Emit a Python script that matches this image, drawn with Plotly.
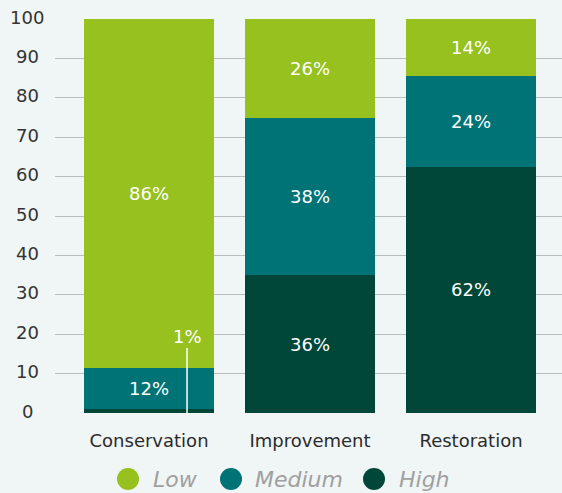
import plotly.graph_objects as go

categories = ["Conservation", "Improvement", "Restoration"]
# segment heights as drawn
high = [1, 35, 62.5]
medium = [10.5, 40, 23]
low = [88.5, 25, 14.5]
# printed labels
high_lbl = ["1%", "36%", "62%"]
medium_lbl = ["12%", "38%", "24%"]
low_lbl = ["86%", "26%", "14%"]
series_names = ["Low", "Medium", "High"]
y_ticks = [0, 10, 20, 30, 40, 50, 60, 70, 80, 90, 100]

C_LOW = "#96c11f"
C_MED = "#007377"
C_HIGH = "#00473a"
BG = "#f0f5f5"
FONT = "DejaVu Sans"

# plot area in pixels
L, R, T, B = 55, 562, 19, 413
W, H = 562, 493

fig = go.Figure()
for name, vals, lbls, col, hide in [("High", high, high_lbl, C_HIGH, {0}),
                                     ("Medium", medium, medium_lbl, C_MED, set()),
                                     ("Low", low, low_lbl, C_LOW, set())]:
    fig.add_trace(go.Bar(
        x=categories, y=vals, name=name, marker=dict(color=col, line=dict(width=0)),
        text=["" if i in hide else s for i, s in enumerate(lbls)],
        textposition="inside", insidetextanchor="middle",
        textangle=0, textfont=dict(family=FONT, size=18, color="white"),
        showlegend=False, cliponaxis=False, hoverinfo="skip",
    ))

annotations = []
# y tick labels, centered
for t in y_ticks:
    annotations.append(dict(x=(27 - L) / (R - L), xref="paper", y=t, yref="y", text=str(t),
                            showarrow=False, xanchor="center", yanchor="middle", yshift=2,
                            font=dict(family=FONT, size=18, color="#333333")))

# callout for Conservation High
annotations.append(dict(x=0.236, y=0, xref="x", yref="y", text=high_lbl[0], showarrow=True,
                        arrowhead=0, arrowcolor="white", arrowwidth=1.5, ax=0, ay=-77,
                        font=dict(family=FONT, size=18, color="white")))

# manual legend
shapes = []
leg_cols = [C_LOW, C_MED, C_HIGH]
circle_cx = [128, 231, 374]
text_x = [151, 253, 397]
leg_y = 479
for name, col, cx, tx in zip(series_names, leg_cols, circle_cx, text_x):
    shapes.append(dict(type="circle", xref="paper", yref="paper", xsizemode="pixel", ysizemode="pixel",
                       xanchor=(cx - L) / (R - L), yanchor=(B - leg_y) / (B - T),
                       x0=-11, x1=11, y0=-11, y1=11, fillcolor=col, line=dict(width=0)))
    annotations.append(dict(x=(tx - L) / (R - L), y=(B - leg_y) / (B - T), xref="paper", yref="paper",
                            text=f"<i>{name}</i>", showarrow=False, xanchor="left", yanchor="middle",
                            font=dict(family=FONT, size=22, color="#a0a0a0")))

fig.update_layout(
    barmode="stack", bargap=0.193,
    width=W, height=H,
    margin=dict(l=L, r=W - R, t=T, b=H - B),
    paper_bgcolor=BG, plot_bgcolor=BG,
    annotations=annotations, shapes=shapes,
    xaxis=dict(range=[-0.584, 2.565], showgrid=False, zeroline=False, showline=False,
               ticks="outside", ticklen=11, tickcolor="rgba(0,0,0,0)",
               tickfont=dict(family=FONT, size=18, color="#2b2b2b")),
    yaxis=dict(range=[0, 100], tickvals=y_ticks, showticklabels=False, showgrid=True,
               gridcolor="#b9bdbd", gridwidth=1.3, zeroline=False, showline=False),
)

fig.write_html("out.html", config={"displayModeBar": False},
               post_script="document.body.style.margin='0';")
